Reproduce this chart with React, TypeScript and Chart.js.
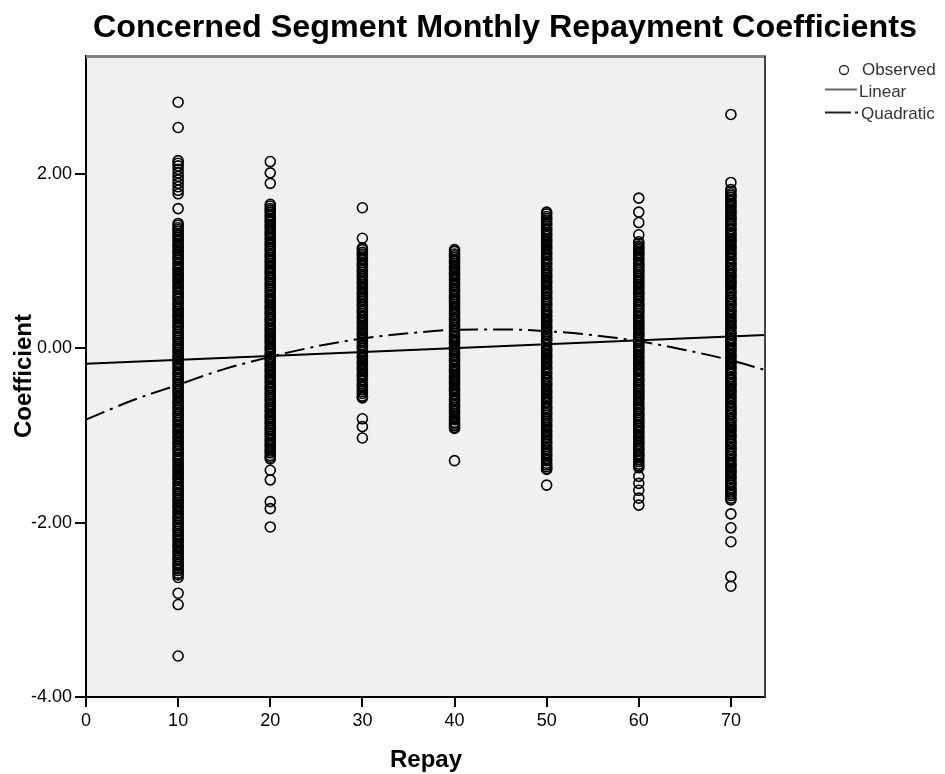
import React, { useEffect, useRef } from "react";
import { Chart, registerables } from "chart.js";

Chart.register(...registerables);

const TITLE = "Concerned Segment Monthly Repayment Coefficients";
const X_TITLE = "Repay";
const Y_TITLE = "Coefficient";
const LEGEND_LABELS = ["Observed", "Linear", "Quadratic"];

const repayGroups = [10, 20, 30, 40, 50, 60, 70];

const obs10 = [
  2.82, 2.53, 2.15, 2.12, 2.09, 2.05, 2.01, 1.97, 1.93, 1.89, 1.85, 1.81, 1.77, 1.60,
  1.43, 1.38, 1.34, 1.29, 1.24, 1.19, 1.15, 1.10, 1.05, 1.01, 0.96, 0.91, 0.86, 0.82,
  0.77, 0.72, 0.68, 0.63, 0.58, 0.53, 0.49, 0.44, 0.39, 0.35, 0.30, 0.25, 0.20, 0.16,
  0.11, 0.06, 0.02, -0.03, -0.08, -0.12, -0.17, -0.22, -0.27, -0.31, -0.36, -0.41,
  -0.45, -0.50, -0.55, -0.60, -0.64, -0.69, -0.74, -0.78, -0.83, -0.88, -0.93, -0.97,
  -1.02, -1.07, -1.11, -1.16, -1.21, -1.26, -1.30, -1.35, -1.40, -1.44, -1.49, -1.54,
  -1.59, -1.63, -1.68, -1.73, -1.77, -1.82, -1.87, -1.92, -1.96, -2.01, -2.06, -2.10,
  -2.15, -2.20, -2.25, -2.29, -2.34, -2.39, -2.43, -2.48, -2.53, -2.58, -2.63,
  -2.81, -2.94, -3.53,
];
const obs10b = [
  1.41, 1.36, 1.31, 1.27, 1.22, 1.17, 1.12, 1.08, 1.03, 0.98, 0.93, 0.89, 0.84, 0.79,
  0.75, 0.70, 0.65, 0.60, 0.56, 0.51, 0.46, 0.42, 0.37, 0.32, 0.27, 0.23, 0.18, 0.13,
  0.09, 0.04, -0.01, -0.05, -0.10, -0.15, -0.19, -0.24, -0.29, -0.34, -0.38, -0.43,
  -0.48, -0.52, -0.57, -0.62, -0.67, -0.71, -0.76, -0.81, -0.85, -0.90, -0.95, -1.00,
  -1.04, -1.09, -1.14, -1.18, -1.23, -1.28, -1.33, -1.37, -1.42, -1.47, -1.51, -1.56,
  -1.61, -1.66, -1.70, -1.75, -1.80, -1.84, -1.89, -1.94, -1.99, -2.03, -2.08, -2.13,
  -2.17, -2.22, -2.27, -2.32, -2.36, -2.41, -2.46, -2.50, -2.55, -2.60,
];

const obs20 = [
  2.14, 2.01, 1.89,
  1.65, 1.60, 1.56, 1.51, 1.46, 1.41, 1.37, 1.32, 1.27, 1.22, 1.18, 1.13, 1.08, 1.04,
  0.99, 0.94, 0.89, 0.85, 0.80, 0.75, 0.71, 0.66, 0.61, 0.56, 0.52, 0.47, 0.42, 0.38,
  0.33, 0.28, 0.23, 0.19, 0.14, 0.09, 0.05, 0.00, -0.05, -0.10, -0.14, -0.19, -0.24,
  -0.28, -0.33, -0.38, -0.43, -0.47, -0.52, -0.57, -0.61, -0.66, -0.71, -0.76, -0.80,
  -0.85, -0.90, -0.94, -0.99, -1.04, -1.09, -1.13, -1.18, -1.23, -1.27,
  -1.40, -1.51, -1.76, -1.84, -2.05,
];
const obs20b = [
  1.63, 1.58, 1.53, 1.48, 1.44, 1.39, 1.34, 1.30, 1.25, 1.20, 1.15, 1.11, 1.06, 1.01,
  0.97, 0.92, 0.87, 0.82, 0.78, 0.73, 0.68, 0.64, 0.59, 0.54, 0.49, 0.45, 0.40, 0.35,
  0.31, 0.26, 0.21, 0.16, 0.12, 0.07, 0.02, -0.02, -0.07, -0.12, -0.17, -0.21, -0.26,
  -0.31, -0.35, -0.40, -0.45, -0.50, -0.54, -0.59, -0.64, -0.68, -0.73, -0.78, -0.83,
  -0.87, -0.92, -0.97, -1.01, -1.06, -1.11, -1.16, -1.20, -1.25,
];

const obs30 = [
  1.61, 1.26,
  1.15, 1.10, 1.06, 1.01, 0.96, 0.91, 0.87, 0.82, 0.77, 0.73, 0.68, 0.63, 0.58, 0.54,
  0.49, 0.44, 0.40, 0.35, 0.30, 0.25, 0.21, 0.16, 0.11, 0.07, 0.02, -0.03, -0.08,
  -0.12, -0.17, -0.22, -0.26, -0.31, -0.36, -0.41, -0.45, -0.50, -0.55, -0.57,
  -0.81, -0.90, -1.03,
];
const obs30b = [
  1.13, 1.08, 1.03, 0.98, 0.94, 0.89, 0.84, 0.80, 0.75, 0.70, 0.65, 0.61, 0.56, 0.51,
  0.47, 0.42, 0.37, 0.32, 0.28, 0.23, 0.18, 0.14, 0.09, 0.04, 0.00, -0.05, -0.10,
  -0.15, -0.19, -0.24, -0.29, -0.33, -0.38, -0.43, -0.48, -0.52, -0.56,
];

const obs40 = [
  1.13, 1.08, 1.04, 0.99, 0.94, 0.90, 0.85, 0.80, 0.75, 0.71, 0.66, 0.61, 0.57, 0.52,
  0.47, 0.42, 0.38, 0.33, 0.28, 0.24, 0.19, 0.14, 0.09, 0.05, 0.00, -0.05, -0.09,
  -0.14, -0.19, -0.24, -0.28, -0.33, -0.38, -0.42, -0.47, -0.52, -0.57, -0.61, -0.66,
  -0.71, -0.75, -0.80, -0.85, -0.89, -0.92,
  -1.29,
];
const obs40b = [
  1.11, 1.06, 1.01, 0.97, 0.92, 0.87, 0.83, 0.78, 0.73, 0.68, 0.64, 0.59, 0.54, 0.50,
  0.45, 0.40, 0.35, 0.31, 0.26, 0.21, 0.17, 0.12, 0.07, 0.02, -0.02, -0.07, -0.12,
  -0.16, -0.21, -0.26, -0.31, -0.35, -0.40, -0.45, -0.49, -0.54, -0.59, -0.64, -0.68,
  -0.73, -0.78, -0.82, -0.87, -0.91,
];

const obs50 = [
  1.56, 1.51, 1.47, 1.42, 1.37, 1.32, 1.28, 1.23, 1.18, 1.14, 1.09, 1.04, 0.99, 0.95,
  0.90, 0.85, 0.81, 0.76, 0.71, 0.66, 0.62, 0.57, 0.52, 0.48, 0.43, 0.38, 0.33, 0.29,
  0.24, 0.19, 0.15, 0.10, 0.05, 0.00, -0.04, -0.09, -0.14, -0.18, -0.23, -0.28, -0.33,
  -0.37, -0.42, -0.47, -0.51, -0.56, -0.61, -0.66, -0.70, -0.75, -0.80, -0.84, -0.89,
  -0.94, -0.99, -1.03, -1.08, -1.13, -1.17, -1.22, -1.27, -1.32, -1.36, -1.39,
  -1.57,
];
const obs50b = [
  1.54, 1.49, 1.44, 1.40, 1.35, 1.30, 1.25, 1.21, 1.16, 1.11, 1.07, 1.02, 0.97, 0.92,
  0.88, 0.83, 0.78, 0.74, 0.69, 0.64, 0.59, 0.55, 0.50, 0.45, 0.41, 0.36, 0.31, 0.26,
  0.22, 0.17, 0.12, 0.08, 0.03, -0.02, -0.07, -0.11, -0.16, -0.21, -0.25, -0.30, -0.35,
  -0.40, -0.44, -0.49, -0.54, -0.58, -0.63, -0.68, -0.73, -0.77, -0.82, -0.87, -0.91,
  -0.96, -1.01, -1.06, -1.10, -1.15, -1.20, -1.24, -1.29, -1.34, -1.38,
];

const obs60 = [
  1.72, 1.56, 1.44, 1.30,
  1.22, 1.17, 1.13, 1.08, 1.03, 0.98, 0.94, 0.89, 0.84, 0.80, 0.75, 0.70, 0.65, 0.61,
  0.56, 0.51, 0.47, 0.42, 0.37, 0.32, 0.28, 0.23, 0.18, 0.14, 0.09, 0.04, -0.01, -0.05,
  -0.10, -0.15, -0.19, -0.24, -0.29, -0.34, -0.38, -0.43, -0.48, -0.52, -0.57, -0.62,
  -0.67, -0.71, -0.76, -0.81, -0.85, -0.90, -0.95, -1.00, -1.04, -1.09, -1.14, -1.18,
  -1.23, -1.28, -1.33, -1.37,
  -1.47, -1.55, -1.63, -1.72, -1.80,
];
const obs60b = [
  1.20, 1.15, 1.10, 1.06, 1.01, 0.96, 0.91, 0.87, 0.82, 0.77, 0.73, 0.68, 0.63, 0.58,
  0.54, 0.49, 0.44, 0.40, 0.35, 0.30, 0.25, 0.21, 0.16, 0.11, 0.07, 0.02, -0.03, -0.08,
  -0.12, -0.17, -0.22, -0.26, -0.31, -0.36, -0.41, -0.45, -0.50, -0.55, -0.59, -0.64,
  -0.69, -0.74, -0.78, -0.83, -0.88, -0.92, -0.97, -1.02, -1.07, -1.11, -1.16, -1.21,
  -1.25, -1.30, -1.35,
];

const obs70 = [
  2.68, 1.90,
  1.82, 1.77, 1.73, 1.68, 1.63, 1.58, 1.54, 1.49, 1.44, 1.40, 1.35, 1.30, 1.25, 1.21,
  1.16, 1.11, 1.07, 1.02, 0.97, 0.92, 0.88, 0.83, 0.78, 0.74, 0.69, 0.64, 0.59, 0.55,
  0.50, 0.45, 0.41, 0.36, 0.31, 0.26, 0.22, 0.17, 0.12, 0.08, 0.03, -0.02, -0.07,
  -0.11, -0.16, -0.21, -0.25, -0.30, -0.35, -0.40, -0.44, -0.49, -0.54, -0.58, -0.63,
  -0.68, -0.73, -0.77, -0.82, -0.87, -0.91, -0.96, -1.01, -1.06, -1.10, -1.15, -1.20,
  -1.24, -1.29, -1.34, -1.39, -1.43, -1.48, -1.53, -1.57, -1.62, -1.67, -1.72, -1.74,
  -1.90, -2.06, -2.22, -2.62, -2.73,
];
const obs70b = [
  1.80, 1.75, 1.70, 1.65, 1.61, 1.56, 1.51, 1.47, 1.42, 1.37, 1.32, 1.28, 1.23, 1.18,
  1.14, 1.09, 1.04, 0.99, 0.95, 0.90, 0.85, 0.81, 0.76, 0.71, 0.66, 0.62, 0.57, 0.52,
  0.48, 0.43, 0.38, 0.33, 0.29, 0.24, 0.19, 0.15, 0.10, 0.05, 0.00, -0.04, -0.09,
  -0.14, -0.18, -0.23, -0.28, -0.33, -0.37, -0.42, -0.47, -0.51, -0.56, -0.61, -0.66,
  -0.70, -0.75, -0.80, -0.84, -0.89, -0.94, -0.99, -1.03, -1.08, -1.13, -1.17, -1.22,
  -1.27, -1.32, -1.36, -1.41, -1.46, -1.50, -1.55, -1.60, -1.65, -1.69,
];

const linearX = [0, 73.7];
const linearY = [-0.18, 0.15];

const quadX = [0, 5, 10, 15, 20, 25, 30, 35, 40, 45, 50, 55, 60, 65, 70, 73.7];
const quadY = [-0.82, -0.6, -0.42, -0.24, -0.1, 0.02, 0.11, 0.17, 0.21, 0.215, 0.195, 0.15, 0.08, -0.02, -0.14, -0.25];

const xTicks = [0, 10, 20, 30, 40, 50, 60, 70];
const yTicks = [-4, -2, 0, 2];
const X_MIN = 0;
const X_MAX = 73.7;
const Y_MIN = -4;
const Y_MAX = 3.35;

const decorPlugin = {
  id: "decor",
  beforeDraw(chart: any) {
    const { ctx, chartArea: a } = chart;
    ctx.save();
    ctx.fillStyle = "#f0f0f0";
    ctx.fillRect(a.left, a.top, a.right - a.left, a.bottom - a.top);
    ctx.restore();
  },
  afterDraw(chart: any) {
    const { ctx, chartArea: a } = chart;
    ctx.save();
    ctx.strokeStyle = "#808080";
    ctx.lineWidth = 3;
    ctx.beginPath();
    ctx.moveTo(a.left, a.top + 0.5);
    ctx.lineTo(a.right + 1, a.top + 0.5);
    ctx.stroke();
    ctx.strokeStyle = "#444";
    ctx.lineWidth = 2;
    ctx.beginPath();
    ctx.moveTo(a.right, a.top);
    ctx.lineTo(a.right, a.bottom);
    ctx.stroke();

    ctx.fillStyle = "#000";
    ctx.textAlign = "center";
    ctx.textBaseline = "alphabetic";
    ctx.font = 'bold 31px "Liberation Sans", Arial, sans-serif';
    const tw = ctx.measureText(TITLE).width;
    ctx.save();
    ctx.translate(505, 37);
    ctx.scale(824 / tw, 1);
    ctx.fillText(TITLE, 0, 0);
    ctx.restore();

    ctx.font = 'bold 24px "Liberation Sans", Arial, sans-serif';
    ctx.textBaseline = "middle";
    ctx.fillText(X_TITLE, 426, 760);
    ctx.save();
    ctx.translate(24, 376);
    ctx.rotate(-Math.PI / 2);
    ctx.fillText(Y_TITLE, 0, 0);
    ctx.restore();

    ctx.font = '17px "Liberation Sans", Arial, sans-serif';
    ctx.textAlign = "left";
    ctx.fillStyle = "#333";
    ctx.strokeStyle = "#222";
    ctx.lineWidth = 1.3;
    ctx.beginPath();
    ctx.arc(844, 70, 4.5, 0, Math.PI * 2);
    ctx.stroke();
    ctx.fillText(LEGEND_LABELS[0], 862, 70);

    ctx.strokeStyle = "#666";
    ctx.lineWidth = 2;
    ctx.beginPath();
    ctx.moveTo(825, 89.5);
    ctx.lineTo(857, 89.5);
    ctx.stroke();
    ctx.fillText(LEGEND_LABELS[1], 859, 92);

    ctx.strokeStyle = "#222";
    ctx.beginPath();
    ctx.moveTo(825, 112.5);
    ctx.lineTo(851, 112.5);
    ctx.stroke();
    ctx.beginPath();
    ctx.moveTo(855, 112.5);
    ctx.lineTo(858, 112.5);
    ctx.stroke();
    ctx.fillText(LEGEND_LABELS[2], 861, 114);
    ctx.restore();
  },
};

export default function App() {
  const ref = useRef<HTMLCanvasElement>(null);

  useEffect(() => {
    const groups = [
      [obs10, obs10b],
      [obs20, obs20b],
      [obs30, obs30b],
      [obs40, obs40b],
      [obs50, obs50b],
      [obs60, obs60b],
      [obs70, obs70b],
    ];
    const observed = groups.flatMap((pair, i) =>
      pair.flatMap((arr) => arr.map((v) => ({ x: repayGroups[i], y: v })))
    );
    const linear = linearX.map((x, i) => ({ x, y: linearY[i] }));
    const quad = quadX.map((x, i) => ({ x, y: quadY[i] }));
    const tickFont = { family: '"Liberation Sans", Arial, sans-serif', size: 18 };

    const chart = new Chart(ref.current as HTMLCanvasElement, {
      type: "scatter",
      data: {
        datasets: [
          {
            label: LEGEND_LABELS[0],
            data: observed,
            pointStyle: "circle",
            pointRadius: 5,
            pointBorderWidth: 1.6,
            pointBorderColor: "#000",
            pointBackgroundColor: "rgba(0,0,0,0)",
            order: 2,
          },
          {
            label: LEGEND_LABELS[1],
            data: linear,
            showLine: true,
            pointRadius: 0,
            borderColor: "#000",
            borderWidth: 2,
            order: 1,
          },
          {
            label: LEGEND_LABELS[2],
            data: quad,
            showLine: true,
            pointRadius: 0,
            borderColor: "#000",
            borderWidth: 2,
            borderDash: [20, 6, 3, 6],
            cubicInterpolationMode: "monotone",
            order: 0,
          },
        ],
      } as any,
      options: {
        animation: false,
        responsive: false,
        events: [],
        layout: { padding: { left: 0, right: 180, top: 56, bottom: 0 } },
        plugins: { legend: { display: false }, tooltip: { enabled: false }, title: { display: false } },
        scales: {
          x: {
            type: "linear",
            min: X_MIN,
            max: X_MAX,
            afterBuildTicks: (s: any) => {
              s.ticks = xTicks.map((v) => ({ value: v }));
            },
            afterFit: (s: any) => {
              s.height = 77;
            },
            ticks: {
              color: "#000",
              font: tickFont,
              padding: 3,
              maxRotation: 0,
              callback: (v: any) => String(v),
            },
            grid: { drawOnChartArea: false, drawTicks: true, tickLength: 10, color: "#000", lineWidth: 2 },
            border: { display: true, color: "#000", width: 2 },
          },
          y: {
            type: "linear",
            min: Y_MIN,
            max: Y_MAX,
            afterBuildTicks: (s: any) => {
              s.ticks = yTicks.map((v) => ({ value: v }));
            },
            afterFit: (s: any) => {
              s.width = 86;
            },
            ticks: {
              color: "#000",
              font: tickFont,
              padding: 3,
              callback: (v: any) => Number(v).toFixed(2),
            },
            grid: { drawOnChartArea: false, drawTicks: true, tickLength: 11, color: "#000", lineWidth: 2 },
            border: { display: true, color: "#000", width: 2 },
          },
        },
      } as any,
      plugins: [decorPlugin],
    });
    return () => chart.destroy();
  }, []);

  return (
    <div style={{ position: "absolute", left: 0, top: 0, width: 945, height: 774, background: "#fff" }}>
      <canvas ref={ref} width={945} height={774} style={{ display: "block" }} />
    </div>
  );
}
